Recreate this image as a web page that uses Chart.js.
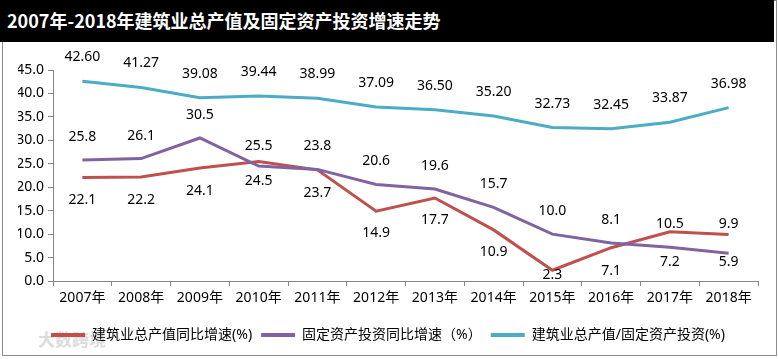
<!DOCTYPE html>
<html><head><meta charset="utf-8">
<script src="https://cdn.jsdelivr.net/npm/chart.js@4.4.0/dist/chart.umd.min.js"></script>
<style>
html,body{margin:0;padding:0;background:#fff;}
#wrap{position:relative;width:778px;height:359px;overflow:hidden;background:#fff;}
#frame{position:absolute;left:2px;top:0;width:773px;height:354px;border:1px solid #8c8c8c;}
#title{position:absolute;left:0;top:0;width:774px;height:42px;background:#000;color:#fff;
  font:bold 18px "Noto Sans CJK SC","Noto Sans",sans-serif;line-height:40px;padding-left:7px;box-sizing:border-box;white-space:nowrap;z-index:2;}
#wm{position:absolute;left:38px;top:326px;color:#dcdcdc;font:bold 17px "Noto Sans CJK SC",sans-serif;z-index:0;}
canvas{position:absolute;left:0;top:0;z-index:1;}
</style>
</head><body>
<div id="wrap">
  <div id="frame"></div>
  <div id="wm">大数跨境</div>
  <canvas id="c" width="778" height="359"></canvas>
  <div id="title">2007年-2018年建筑业总产值及固定资产投资增速走势</div>
</div>
<script>
const categories = ['2007年','2008年','2009年','2010年','2011年','2012年','2013年','2014年','2015年','2016年','2017年','2018年'];
const constructionGrowth = [22.1,22.2,24.1,25.5,23.7,14.9,17.7,10.9,2.3,7.1,10.5,9.9];
const fixedInvestGrowth = [25.8,26.1,30.5,24.5,23.8,20.6,19.6,15.7,10.0,8.1,7.2,5.9];
const outputToInvestRatio = [42.60,41.27,39.08,39.44,38.99,37.09,36.50,35.20,32.73,32.45,33.87,36.98];
const yTicks = [0,5,10,15,20,25,30,35,40,45];
const seriesNames = ['建筑业总产值同比增速(%)','固定资产投资同比增速（%）','建筑业总产值/固定资产投资(%)'];

const FONT = '"Noto Sans","Noto Sans CJK SC",sans-serif';

const labelPlugin = {
  id:'valueLabels',
  afterDatasetsDraw(chart){
    const ctx = chart.ctx;
    ctx.save();
    ctx.font = '14px ' + FONT;
    ctx.fillStyle = '#000';
    ctx.textAlign = 'center';
    ctx.textBaseline = 'middle';
    chart.data.datasets.forEach((ds,i)=>{
      const meta = chart.getDatasetMeta(i);
      meta.data.forEach((pt,j)=>{
        ctx.fillText(ds.data[j].toFixed(ds.decimals), pt.x, pt.y + ds.labelOffsets[j]);
      });
    });
    ctx.restore();
  }
};

new Chart(document.getElementById('c'), {
  type:'line',
  data:{
    labels:categories,
    datasets:[
      {label:seriesNames[0], data:constructionGrowth, borderColor:'#C0504D', backgroundColor:'#C0504D',
       borderWidth:3, pointRadius:0, tension:0, decimals:1, order:3,
       labelOffsets:[23,23,23,-15,23,22,22,22,5,23,-8,-11]},
      {label:seriesNames[1], data:fixedInvestGrowth, borderColor:'#8064A2', backgroundColor:'#8064A2',
       borderWidth:3, pointRadius:0, tension:0, decimals:1, order:2,
       labelOffsets:[-23,-23,-23,15,-23,-23,-23,-23,-23,-23,15,9]},
      {label:seriesNames[2], data:outputToInvestRatio, borderColor:'#4BACC6', backgroundColor:'#4BACC6',
       borderWidth:3, pointRadius:0, tension:0, decimals:2, order:1,
       labelOffsets:[-24,-24,-24,-24,-24,-24,-24,-24,-24,-24,-24,-24]}
    ]
  },
  options:{
    responsive:false, animation:false, devicePixelRatio:1,
    layout:{padding:{left:18,right:20,top:70,bottom:7}},
    scales:{
      x:{
        offset:true,
        grid:{offset:true, drawOnChartArea:false, drawTicks:true, tickLength:5, color:'#868686'},
        border:{color:'#868686', width:1},
        ticks:{color:'#000', font:{size:14, family:FONT}, padding:4, maxRotation:0, autoSkip:false},
        afterFit(s){ s.height = 38; }
      },
      y:{
        min:0, max:45,
        afterBuildTicks(s){ s.ticks = yTicks.map(v=>({value:v})); },
        ticks:{color:'#000', font:{size:14, family:FONT}, padding:4, callback:v=>Number(v).toFixed(1)},
        grid:{drawOnChartArea:false, drawTicks:true, tickLength:5, color:'#868686'},
        border:{color:'#868686', width:1},
        afterFit(s){ s.width = 35; }
      }
    },
    plugins:{
      legend:{
        position:'bottom',
        labels:{
          boxWidth:34, boxHeight:4, padding:9, color:'#000', font:{size:14, family:FONT},
          generateLabels(chart){
            return chart.data.datasets.map((ds,i)=>({
              text:ds.label, fillStyle:ds.borderColor, strokeStyle:ds.borderColor,
              lineWidth:0, hidden:false, datasetIndex:i, fontColor:'#000'
            }));
          }
        }
      },
      tooltip:{enabled:false}
    }
  },
  plugins:[labelPlugin]
});
</script>
</body></html>
